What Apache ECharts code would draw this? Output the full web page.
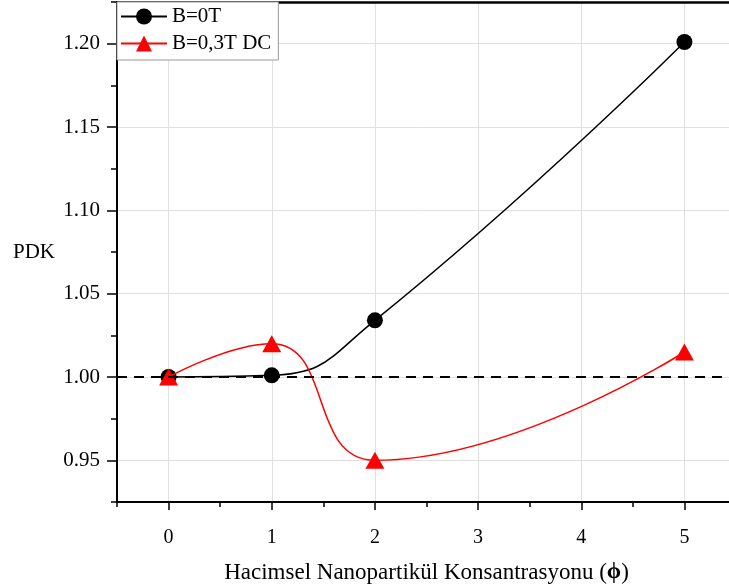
<!DOCTYPE html>
<html>
<head>
<meta charset="utf-8">
<script src="https://cdn.jsdelivr.net/npm/echarts@6/dist/echarts.min.js"></script>
<style>
html,body{margin:0;padding:0;background:#fff;}
#c{width:729px;height:587px;}
</style>
</head>
<body>
<div id="c"></div>
<script>
// ---- data ----
const xValues = [0, 1, 2, 5];
const seriesB0 = [1.000, 1.001, 1.034, 1.201];
const seriesB03 = [1.000, 1.020, 0.950, 1.015];
const seriesNames = ['B=0T', 'B=0,3T DC'];
const referenceLevel = 1.00;
// ---- ticks ----
const xTickLabels = [0, 1, 2, 3, 4, 5];
const xMinorTicks = [-0.5, 0.5, 1.5, 2.5, 3.5, 4.5, 5.5];
const yTickLabels = [0.95, 1.00, 1.05, 1.10, 1.15, 1.20];
const yMinorTicks = [0.925, 0.975, 1.025, 1.075, 1.125, 1.175, 1.225];
const xRange = [-0.5, 5.5];
const yRange = [0.925, 1.225];

const FONT = '"Liberation Serif", "Times New Roman", serif';
const pairs = (xs, ys) => xs.map((x, i) => [x, ys[i]]);

const chart = echarts.init(document.getElementById('c'), null, {renderer: 'canvas'});
const grid = {left: 117, right: -7, top: 2, bottom: 85, containLabel: false, outerBoundsMode: 'none'};

chart.setOption({
  animation: false,
  backgroundColor: '#fff',
  textStyle: {fontFamily: FONT, color: '#000'},
  grid: grid,
  legend: {
    orient: 'vertical', left: 117, top: 2,
    itemWidth: 46, itemHeight: 20, itemGap: 6,
    padding: [4, 7, 6, 3],
    borderColor: '#999', borderWidth: 1, backgroundColor: '#fff',
    textStyle: {fontFamily: FONT, fontSize: 21, color: '#000'},
    data: seriesNames
  },
  xAxis: [
    {
      type: 'value', min: xRange[0], max: xRange[1], position: 'bottom',
      name: 'Hacimsel Nanopartikül Konsantrasyonu ({b|ϕ})',
      nameLocation: 'middle', nameGap: 59,
      nameTextStyle: {fontFamily: FONT, fontSize: 23, color: '#000',
        rich: {b: {fontFamily: FONT, fontSize: 23, fontWeight: 'bold', color: '#000'}}},
      axisLine: {show: true, onZero: false, lineStyle: {color: '#000', width: 2}},
      axisTick: {show: true, inside: false, length: 8, customValues: xTickLabels, lineStyle: {color: '#000', width: 1.5}},
      axisLabel: {show: true, margin: 26, customValues: xTickLabels, fontFamily: FONT, fontSize: 20, color: '#000'},
      splitLine: {show: true, lineStyle: {color: '#e0e0e0', width: 1}}
    },
    {
      type: 'value', min: xRange[0], max: xRange[1], position: 'bottom',
      axisLine: {show: false, onZero: false},
      axisTick: {show: true, length: 5, customValues: xMinorTicks, lineStyle: {color: '#000', width: 1.5}},
      axisLabel: {show: false},
      splitLine: {show: false}
    },
    {
      type: 'value', min: xRange[0], max: xRange[1], position: 'top',
      axisLine: {show: true, onZero: false, lineStyle: {color: '#000', width: 2.5}},
      axisTick: {show: false}, axisLabel: {show: false}, splitLine: {show: false}
    }
  ],
  yAxis: [
    {
      type: 'value', min: yRange[0], max: yRange[1], position: 'left',
      name: 'PDK', nameLocation: 'middle', nameRotate: 0, nameGap: 62,
      nameTextStyle: {fontFamily: FONT, fontSize: 21, color: '#000'},
      axisLine: {show: true, onZero: false, lineStyle: {color: '#000', width: 2}},
      axisTick: {show: true, length: 10, customValues: yTickLabels, lineStyle: {color: '#000', width: 1.5}},
      axisLabel: {show: true, margin: 17, customValues: yTickLabels, fontFamily: FONT, fontSize: 21, color: '#000',
        formatter: v => v.toFixed(2)},
      splitLine: {show: true, lineStyle: {color: '#e0e0e0', width: 1}}
    },
    {
      type: 'value', min: yRange[0], max: yRange[1], position: 'left',
      axisLine: {show: false, onZero: false},
      axisTick: {show: true, length: 6, customValues: yMinorTicks, lineStyle: {color: '#000', width: 1.5}},
      axisLabel: {show: false}, splitLine: {show: false}
    }
  ],
  series: [
    {
      name: seriesNames[0], type: 'line', xAxisIndex: 0, yAxisIndex: 0,
      data: pairs(xValues, seriesB0), smooth: 0.5,
      symbol: 'circle', symbolSize: 16,
      lineStyle: {color: '#000', width: 1.5}, itemStyle: {color: '#000'},
      markLine: {
        silent: true, symbol: 'none', label: {show: false},
        lineStyle: {color: '#000', type: [10, 7], width: 2},
        data: [{yAxis: referenceLevel}]
      },
      z: 3
    },
    {
      name: seriesNames[1], type: 'line', xAxisIndex: 0, yAxisIndex: 0,
      data: pairs(xValues, seriesB03), smooth: 0.5,
      symbol: 'triangle', symbolSize: [19, 17],
      lineStyle: {color: '#ff0000', width: 1.5}, itemStyle: {color: '#ff0000'},
      z: 4
    }
  ]
});
</script>
</body>
</html>
